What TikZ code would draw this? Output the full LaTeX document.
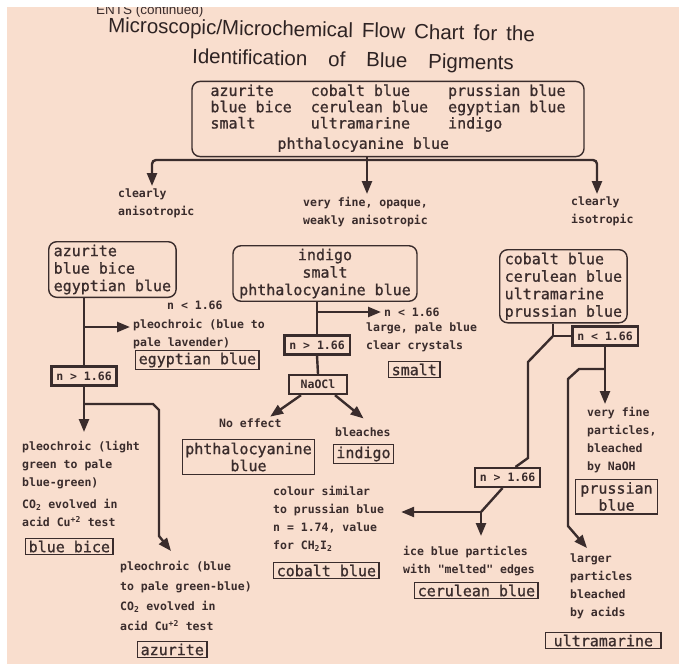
\documentclass[tikz,border=0pt]{standalone}
\usepackage{fontspec}
\usepackage{tikz}
\usetikzlibrary{arrows.meta}
\newfontfamily\titlefont{Liberation Sans}
\newfontfamily\pigmentfont[FakeBold=1]{DejaVu Sans Mono}
\newfontfamily\notefont{DejaVu Sans Mono}
\definecolor{paper}{RGB}{249,222,206}
\definecolor{ink}{RGB}{58,44,44}

\begin{document}
\begin{tikzpicture}[x=1pt,y=-1pt,
  flow/.style={draw=ink,line width=2.4pt},
  flowarrow/.style={-{Triangle[width=10pt,length=13pt]},shorten >=3pt},
  pigbox/.style={draw=ink,line width=1.4pt,rounded corners=8pt,text=ink,
    font=\pigmentfont\fontsize{15}{17.5}\selectfont,inner xsep=5pt,inner ysep=3pt},
  result/.style={draw=ink,line width=1.4pt,text=ink,align=center,
    font=\pigmentfont\fontsize{15}{17}\selectfont,inner xsep=3pt,inner ysep=2pt},
  ntest/.style={draw=ink,line width=2.4pt,text=ink,
    font=\notefont\bfseries\fontsize{11.5}{13}\selectfont,inner xsep=5pt,inner ysep=5pt},
  note/.style={text=ink,align=left,inner sep=0pt,
    font=\notefont\bfseries\fontsize{11.5}{18}\selectfont},
  titletext/.style={text=ink!80!black,inner sep=0pt,
    font=\titlefont\fontsize{20.5}{24}\selectfont}]
  \useasboundingbox (0,0) rectangle (679,664);
  \fill[paper] (0,0) rectangle (679,664);
  \node[titletext,anchor=west,rotate=-1.2] (title1) at (108,27)
    {Microscopic/Microchemical\hspace{9pt}Flow\hspace{9pt}Chart\hspace{9pt}for\hspace{9pt}the};
  \node[titletext,anchor=west,rotate=-1.2] (title2) at (192,58)
    {Identification\hspace{21pt}of\hspace{21pt}Blue\hspace{21pt}Pigments};
  \node[text=ink,anchor=west,inner sep=0pt,font=\titlefont\fontsize{13.5}{15}\selectfont] (contd) at (96,11)
    {ENTS (continued)};
  \node[pigbox,minimum width=392pt,minimum height=72pt,font=\pigmentfont\fontsize{15}{16}\selectfont] (top) at (388,119)
    {\begin{tabular}{@{}l@{\hspace{19pt}}l@{\hspace{20pt}}l@{}}
      azurite & cobalt blue & prussian blue\\
      blue bice & cerulean blue & egyptian blue\\
      smalt & ultramarine & indigo\\[4pt]
      \multicolumn{3}{@{}l@{}}{\hspace*{67pt}phthalocyanine blue}
    \end{tabular}};
  \coordinate (busL) at (152,160);
  \coordinate (busM) at (367,160);
  \coordinate (busR) at (597,160);
  \node[note,anchor=north west] (aniso) at (118,189) {clearly\\anisotropic};
  \node[note,anchor=north west] (weak) at (303,197) {very fine, opaque,\\weakly anisotropic};
  \node[note,anchor=north west] (iso) at (571,197) {clearly\\isotropic};
  \draw[flow]
    (top.south -| busM)
    --
    (busM);
  \draw[flow,flowarrow]
    (busM)
    --
    (weak.north -| busM);
  \draw[flow,flowarrow,rounded corners=4pt]
    (busM)
    -|
    (aniso.north -| busL);
  \draw[flow,flowarrow,rounded corners=4pt]
    (busM)
    -|
    (iso.north -| busR);
  % left branch
  \node[pigbox,anchor=north west,align=left,minimum width=127pt] (leftgrp) at (48,241)
    {azurite\\blue bice\\egyptian blue};
  \node[ntest] (lgt) at (84,376) {n > 1.66};
  \coordinate (lside) at (84,327);
  \coordinate (lfork) at (84,404);
  \coordinate (aztip) at (171,551);
  \node[note,anchor=west] (lless) at (167,305) {n < 1.66};
  \node[note,anchor=north west] (lnote) at (133,319) {pleochroic (blue to\\pale lavender)};
  \node[result,anchor=north west] (egres) at (135,350) {egyptian blue};
  \node[note,anchor=north west] (bbnote) at (22,441)
    {pleochroic (light\\green to pale\\blue-green)\\[4pt]CO\textsubscript{2} evolved in\\acid Cu\textsuperscript{+2} test};
  \node[result,anchor=north west] (bbres) at (25,538) {blue bice};
  \node[note,anchor=north west] (aznote) at (120,561)
    {pleochroic (blue\\[2pt]to pale green-blue)\\[2pt]CO\textsubscript{2} evolved in\\[2pt]acid Cu\textsuperscript{+2} test};
  \node[result,anchor=north west] (azres) at (137,641) {azurite};
  \draw[flow]
    (leftgrp.south -| lgt.north)
    --
    (lgt.north);
  \draw[flow,flowarrow]
    (lside)
    --
    (lside -| lnote.west);
  \draw[flow]
    (lgt.south)
    --
    (lfork);
  \draw[flow,flowarrow,shorten >=9pt]
    (lfork)
    --
    (bbnote.north -| lfork);
  \draw[flow,flowarrow,shorten >=0pt]
    (lfork)
    --
    ++(69,0)
    --
    ++(6,6)
    --
    ++(0,126)
    --
    (aztip);
  % middle branch
  \node[pigbox,align=center,minimum width=184pt] (midgrp) at (325,273.5)
    {indigo\\smalt\\phthalocyanine blue};
  \node[ntest] (mgt) at (317,345) {n > 1.66};
  \node[ntest,minimum width=58pt] (naocl) at (318,384.5) {NaOCl};
  \coordinate (mside) at (317,312);
  \node[note,anchor=west] (mless) at (384,312) {n < 1.66};
  \node[note,anchor=north west] (mnote) at (366,323) {large, pale blue\\clear crystals};
  \node[result,anchor=north west] (smres) at (388,361) {smalt};
  \node[note,anchor=west] (noeff) at (219,423) {No effect};
  \node[note,anchor=west] (bleach) at (335,432) {bleaches};
  \node[result,inner ysep=3pt] (phres) at (248.5,457) {phthalocyanine\\blue};
  \node[result] (indres) at (363.5,454) {indigo};
  \node[note,anchor=north west] (cbnote) at (273,486)
    {colour similar\\to prussian blue\\n = 1.74, value\\for CH\textsubscript{2}I\textsubscript{2}};
  \node[result,anchor=north west] (cbres) at (273,562) {cobalt blue};
  \draw[flow]
    (midgrp.south -| mgt.north)
    --
    (mgt.north);
  \draw[flow,flowarrow]
    (mside)
    --
    (mless.west);
  \draw[flow]
    (mgt.south)
    --
    (naocl.north);
  \draw[flow,flowarrow]
    ([xshift=-17pt]naocl.south)
    --
    ([xshift=-14pt]noeff.north east);
  \draw[flow,flowarrow]
    ([xshift=17pt]naocl.south)
    --
    ([xshift=3pt,yshift=7pt]bleach.north);
  % right branch
  \node[pigbox,anchor=north west,align=left,minimum width=127pt] (rightgrp) at (499,249)
    {cobalt blue\\cerulean blue\\ultramarine\\prussian blue};
  \node[ntest] (rlt) at (605,336) {n < 1.66};
  \node[ntest] (rgt) at (507.5,477.5) {n > 1.66};
  \coordinate (rj1) at (553,336);
  \coordinate (rj2) at (605,369);
  \coordinate (rj3) at (481,512);
  \coordinate (umtip) at (587,548);
  \node[note,anchor=north west] (pbnote) at (587,407) {very fine\\particles,\\bleached\\by NaOH};
  \node[result,inner xsep=5pt,inner ysep=3pt] (pbres) at (616.5,496.5) {prussian\\blue};
  \node[note,anchor=north west] (cenote) at (403,546) {ice blue particles\\with "melted" edges};
  \node[result,anchor=north west] (ceres) at (414,582) {cerulean blue};
  \node[note,anchor=north west] (umnote) at (570,554) {larger\\particles\\bleached\\by acids};
  \node[result,anchor=north west,inner xsep=8pt] (umres) at (545,632) {ultramarine};
  \draw[flow]
    (rightgrp.south -| rj1)
    --
    (rj1)
    --
    (rlt.west);
  \draw[flow]
    (rj1)
    --
    ++(-25,26)
    --
    ++(0,96)
    --
    ([xshift=8pt]rgt.north);
  \draw[flow]
    (rlt.south)
    --
    (rj2);
  \draw[flow,flowarrow]
    (rj2)
    --
    (pbnote.north -| rj2);
  \draw[flow,flowarrow,shorten >=0pt]
    (rj2)
    --
    ++(-26,0)
    --
    ++(-11,10)
    --
    ++(0,147)
    --
    (umtip);
  \draw[flow]
    ([xshift=-5pt]rgt.south)
    --
    (rj3);
  \draw[flow,flowarrow,shorten >=17pt]
    (rj3)
    --
    (rj3 -| cbnote.east);
  \draw[flow,flowarrow,shorten >=10pt]
    (rj3)
    --
    (cenote.north -| rj3);
  \fill[white] (0,0) rectangle (679,7);
  \fill[white] (0,0) rectangle (7,664);
\end{tikzpicture}
\end{document}
